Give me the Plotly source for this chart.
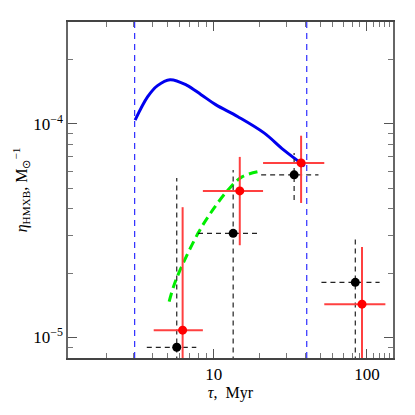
"""
HMXB formation efficiency vs. age - recreated with plotly
"""

import plotly.graph_objects as go

# model curve (solid blue)
model_tau = [3.07, 3.71, 4.30, 5.19, 6.65, 8.28, 10.3, 14.4, 21.3, 28.6, 39.3]
model_eta = [1.04e-4, 1.34e-4, 1.51e-4, 1.61e-4, 1.52e-4, 1.37e-4, 1.23e-4,
             1.08e-4, 9.07e-5, 7.55e-5, 6.35e-5]

# second model (dashed green)
alt_tau = [5.12, 5.66, 7.9, 9.86, 12.4, 15.2, 19.3]
alt_eta = [1.47e-5, 1.85e-5, 3.07e-5, 3.95e-5, 4.9e-5, 5.63e-5, 5.96e-5]

# age limits (dashed blue verticals)
tau_limits = [3.05, 40.5]

# black points, dashed error bars
black_tau = [5.74, 13.4, 33.5, 84.0]
black_eta = [8.98e-6, 3.07e-5, 5.77e-5, 1.81e-5]
black_tau_lo = [3.66, 7.9, 20.4, 50.5]
black_tau_hi = [7.7, 19.3, 48.3, 121.0]
black_eta_lo = [7e-6, 7e-6, 4.4e-5, 7e-6]
black_eta_hi = [5.58e-5, 6.08e-5, 7.3e-5, 2.94e-5]

# red points, solid error bars
red_tau = [6.27, 14.8, 37.2, 92.9]
red_eta = [1.08e-5, 4.85e-5, 6.56e-5, 1.43e-5]
red_tau_lo = [4.06, 8.5, 21.0, 52.7]
red_tau_hi = [8.5, 21.0, 52.7, 132.0]
red_eta_lo = [7e-6, 2.7e-5, 4.26e-5, 7e-6]
red_eta_hi = [4.07e-5, 7.0e-5, 8.8e-5, 2.65e-5]

Y_RANGE = [8e-6, 3e-4]
FONT = "Liberation Serif"


def bar_segments(xc, yc, xlo, xhi, ylo, yhi):
    """Build None-separated line segments for error crosses"""
    hx, hy, vx, vy = [], [], [], []
    for x, y, a, b, c, d in zip(xc, yc, xlo, xhi, ylo, yhi):
        hx += [a, b, None]
        hy += [y, y, None]
        vx += [x, x, None]
        vy += [c, d, None]
    return hx, hy, vx, vy


fig = go.Figure()

for t in tau_limits:
    fig.add_trace(go.Scatter(
        x=[t, t], y=Y_RANGE, mode='lines',
        line=dict(color='#1a1aff', width=1.1, dash='6px,5px')
    ))

fig.add_trace(go.Scatter(
    x=model_tau, y=model_eta, mode='lines', line_shape='spline',
    line=dict(color='#0000ee', width=3)
))

fig.add_trace(go.Scatter(
    x=alt_tau, y=alt_eta, mode='lines', line_shape='spline',
    line=dict(color='#00ee00', width=3, dash='9px,5px')
))

# black error bars
hx, hy, vx, vy = bar_segments(black_tau, black_eta, black_tau_lo, black_tau_hi,
                              black_eta_lo, black_eta_hi)
for xs, ys in [(hx, hy), (vx, vy)]:
    fig.add_trace(go.Scatter(
        x=xs, y=ys, mode='lines',
        line=dict(color='#222222', width=1.2, dash='5px,4px')
    ))

# red error bars
hx, hy, vx, vy = bar_segments(red_tau, red_eta, red_tau_lo, red_tau_hi,
                              red_eta_lo, red_eta_hi)
for xs, ys in [(hx, hy), (vx, vy)]:
    fig.add_trace(go.Scatter(
        x=xs, y=ys, mode='lines',
        line=dict(color='#ff4040', width=2)
    ))

fig.add_trace(go.Scatter(
    x=black_tau, y=black_eta, mode='markers',
    marker=dict(color='black', size=9), cliponaxis=False
))
fig.add_trace(go.Scatter(
    x=red_tau, y=red_eta, mode='markers',
    marker=dict(color='#ff0000', size=9), cliponaxis=False
))

x_minor = [2, 3, 4, 5, 6, 7, 8, 9, 20, 30, 40, 50, 60, 70, 80, 90, 110, 120, 130, 140]
y_minor = [9e-6, 2e-5, 3e-5, 4e-5, 5e-5, 6e-5, 7e-5, 8e-5, 9e-5, 2e-4, 3e-4]

fig.update_xaxes(
    type='log', range=[0.0492, 2.1703],
    tickvals=[10, 100], ticktext=['10', '100'],
    ticks='inside', ticklen=9, tickcolor='#555', tickwidth=1,
    minor=dict(tickvals=x_minor, ticks='inside', ticklen=5, tickcolor='#777'),
    showline=True, linecolor='#444', linewidth=1.5, mirror='allticks',
    showgrid=False, zeroline=False,
    tickfont=dict(family=FONT, size=17, color='black'),
    title=dict(text='<i>τ</i>,  Myr', font=dict(family=FONT, size=16, color='black'),
               standoff=4)
)
fig.update_yaxes(
    type='log', range=[-5.0969, -3.5229],
    tickvals=[1e-5, 1e-4], ticktext=['10<sup>−5</sup>', '10<sup>−4</sup>'],
    ticks='inside', ticklen=9, tickcolor='#555', tickwidth=1,
    minor=dict(tickvals=y_minor, ticks='inside', ticklen=5, tickcolor='#777'),
    showline=True, linecolor='#666', linewidth=1.5, mirror='allticks',
    showgrid=False, zeroline=False,
    tickfont=dict(family=FONT, size=17, color='black'),
    title=dict(text='<i>η</i><sub>HMXB</sub>, M<sub>⊙</sub><sup>−1</sup>',
               font=dict(family=FONT, size=16, color='black'), standoff=2)
)

# page body adds an 8px offset, so margins are shifted to compensate
fig.update_layout(
    width=407, height=407,
    margin=dict(l=50, r=22, t=14, b=57),
    paper_bgcolor='white', plot_bgcolor='white',
    showlegend=False
)

fig.write_html("out.html")
